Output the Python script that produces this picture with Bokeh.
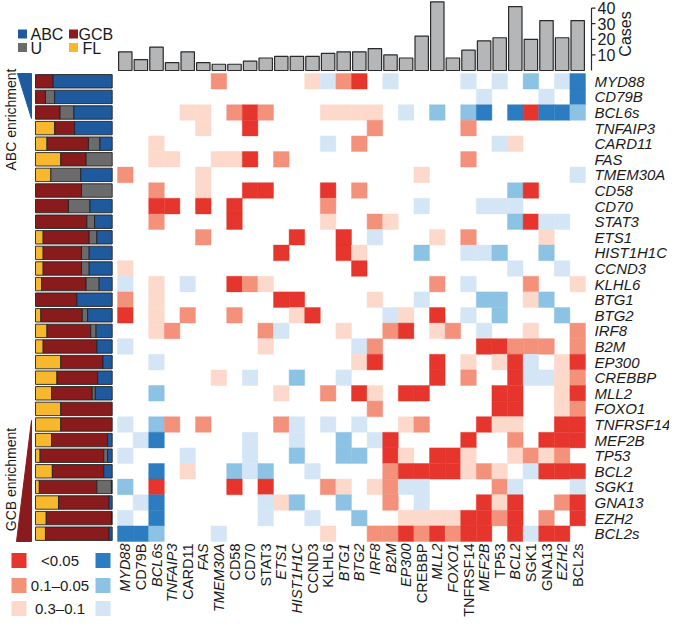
import math
from bokeh.plotting import figure
from bokeh.models import Range1d
from bokeh.core.properties import value
from bokeh.embed import file_html
from bokeh.resources import INLINE

# ---------------- data ----------------
genes = ["MYD88", "CD79B", "BCL6s", "TNFAIP3", "CARD11", "FAS", "TMEM30A", "CD58",
         "CD70", "STAT3", "ETS1", "HIST1H1C", "CCND3", "KLHL6", "BTG1", "BTG2",
         "IRF8", "B2M", "EP300", "CREBBP", "MLL2", "FOXO1", "TNFRSF14", "MEF2B",
         "TP53", "BCL2", "SGK1", "GNA13", "EZH2", "BCL2s"]

cases = [12, 7, 15, 5, 12, 5, 4, 4, 6, 8, 9, 9, 9, 11, 12, 12, 14, 10, 8, 22,
         44, 8, 13, 19, 21, 41, 20, 32, 21, 32]

# subtype composition of each row gene (%)
fl = [0, 0, 0, 25, 15, 33, 20, 0, 0, 0, 10, 10, 10, 8, 0, 7, 15, 10, 33, 28,
      21, 33, 33, 21, 6, 22, 5, 30, 14, 13]
gcb = [23, 13, 32, 26, 54, 33, 0, 60, 43, 67, 60, 50, 50, 58, 54, 54, 57, 70, 55, 53,
       53, 67, 67, 73, 83, 67, 75, 66, 85, 83]
u = [0, 12, 18, 0, 15, 34, 39, 40, 28, 10, 10, 10, 10, 17, 0, 7, 7, 0, 0, 0,
     4, 0, 0, 0, 5, 0, 19, 0, 0, 0]
abc = [77, 75, 50, 49, 16, 0, 41, 0, 29, 23, 20, 30, 30, 17, 46, 32, 21, 20, 12, 19,
       22, 0, 0, 6, 6, 11, 1, 4, 1, 4]

# significance of co-occurrence (R/s/r: <0.05, 0.1-0.05, 0.3-0.1) and of
# mutual exclusivity (B/m/b), as "column+level" per row gene
cell_codes = [
    "6s 12r 13b 14s 15R 17b 22b 24b 26m 28b 29B",
    "23b 27b 29B",
    "4r 5r 7s 8R 9s 13r 14r 15r 16r 18b 20m 22m 23B 25B 26R 27B 28B 29m",
    "5r 8R 16s 22s",
    "2r 13b 15s 24b 25r",
    "2r 3r 6r 7r 8R 10s 22s",
    "0s 5r 19r 29b",
    "2s 5r 8R 9R 13R 15s 25m 26R",
    "2R 3R 5R 7R 13s 19b 23b 24b 25b",
    "2s 7R 13r 16s 17r 25m 26R 27b 28b",
    "5s 11R 14R 16b 20r 22s 27r",
    "10R 14R 15r 19m 22b 23b 24m 27m",
    "0r 15R 25b 28b",
    "0b 2r 4b 7R 8s 9r 20s 22b 26s 29r",
    "0s 2r 10R 11R 16r 19b 23m 24m 26r 27m",
    "0R 2r 4s 7s 11r 12R 17b 18r 20R 22b 24m 28m",
    "2r 3s 9s 10b 14r 17s 18R 20r 21s 23b 26r 29s",
    "0b 9r 15b 16s 23R 24R 25s 26s 27s 29s",
    "2b 15r 16R 20R 22r 24r 25R 26b 28r 29R",
    "6r 8b 11m 14b 20R 22s 25R 26b 27b 28r 29s",
    "2m 10r 13s 15R 16r 18R 19R 24R 25R 28r 29R",
    "16s 24R 25R 28r 29s",
    "0b 2m 3s 5s 10s 11b 13b 15b 18r 19s 23R 24r 25r 28R 29R",
    "1b 2B 8b 11b 14m 16b 17R 22R 25s 27R 28R 29R",
    "0b 4b 8b 11m 14m 15m 17R 18r 20R 21R 22r 25r 26s 27r 28s",
    "2B 4r 7m 8b 9m 12b 17s 18R 19R 20R 21R 22r 23s 24r 26b 27R 28R 29R",
    "0m 2R 7R 9R 13s 14r 16r 17s 18b 19b 24s 25b 29b",
    "1b 2B 9b 10r 11m 14m 17s 19b 23R 24r 25R 28s 29R",
    "0b 2B 9b 12b 15m 18r 19r 20r 21r 22R 23R 24s 25R 27s 29R",
    "0B 1B 2m 6b 13r 16s 17s 18R 19s 20R 21s 22R 23R 25R 26b 27R 28R",
]

case_ticks = [10, 20, 30, 40]
legend_labels = ["<0.05", "0.1\u20130.05", "0.3\u20130.1"]
subtypes = ["ABC", "GCB", "U", "FL"]

# ---------------- styles ----------------
level_colors = {"R": "#e5352c", "s": "#f3917b", "r": "#fcd9cb",
                "B": "#2b7cc0", "m": "#8cc2e3", "b": "#d4e6f6"}
sub_colors = {"FL": "#f8b82e", "GCB": "#8a1b1c", "U": "#6b6b6b", "ABC": "#1f5a9f"}
bottom_italic = [True, False, True, True, False, True, True, False, False, False,
                 True, True, False, False, True, True, True, True, True, False,
                 True, True, False, True, False, True, False, False, True, False]
FONT = value("Liberation Sans")
TXT = "#1a1a1a"

# pixel geometry helpers (reference pixel -> data units of the heatmap)
CELL = 15.6
N = len(genes)
def dx(px):
    return (px - 128) / CELL
def dy(py):
    return (548 - py) / CELL

BASE, PPC = 77.0, 1.56          # cases axis: baseline pixel, pixels per case
PX0, PPP = 46.0, 0.767          # composition bars: left pixel, pixels per percent
LEFT, RIGHT, TOP, BOTTOM = 11, 680, 7, 626

p = figure(width=669, height=619, output_backend="svg", toolbar_location=None,
           title=None, x_axis_location=None, y_axis_location=None, min_border=0,
           x_range=Range1d(dx(LEFT), dx(RIGHT)), y_range=Range1d(dy(BOTTOM), dy(TOP)))
p.outline_line_color = None
p.grid.grid_line_color = None
p.background_fill_color = "white"
p.extra_y_ranges = {"cases": Range1d((BASE - BOTTOM) / PPC, (BASE - TOP) / PPC)}
p.extra_x_ranges = {"pct": Range1d((LEFT - PX0) / PPP, (RIGHT - PX0) / PPP)}

# ---------------- heatmap ----------------
hx, hy, hc = [], [], []
for r, codes in enumerate(cell_codes):
    for tok in codes.split():
        c, k = int(tok[:-1]), tok[-1]
        hx.append(c + 0.5)
        hy.append(N - r - 0.5)
        hc.append(level_colors[k])
p.rect(x=hx, y=hy, width=1, height=1, fill_color=hc, line_color=hc, line_width=0.4)

# ---------------- top bars (cases) ----------------
p.vbar(x=[i + 0.5 for i in range(N)], top=cases, bottom=0, width=0.86,
       y_range_name="cases", fill_color="#b4b6b8", line_color="#2a2a2a", line_width=1.2)
ax = dx(602)
p.segment(x0=[ax], y0=[0], x1=[ax], y1=[max(case_ticks)], y_range_name="cases",
          line_color="#2a2a2a", line_width=1.2)
p.segment(x0=[ax] * len(case_ticks), y0=case_ticks, x1=[dx(606)] * len(case_ticks),
          y1=case_ticks, y_range_name="cases", line_color="#2a2a2a", line_width=1.2)
p.text(x=[dx(608)] * len(case_ticks), y=case_ticks, text=[str(t) for t in case_ticks],
       y_range_name="cases", text_font=FONT, text_font_size="16px", text_color=TXT,
       text_align="left", text_baseline="middle")
p.text(x=[dx(636)], y=[(BASE - 40.5) / PPC], text=["Cases"], angle=math.pi / 2,
       y_range_name="cases", text_font=FONT, text_font_size="16px", text_color=TXT,
       text_align="center", text_baseline="middle")

# ---------------- composition bars ----------------
by, bl, br, bc = [], [], [], []
for r in range(N):
    parts = [("FL", fl[r]), ("GCB", gcb[r]), ("U", u[r]), ("ABC", abc[r])]
    total = sum(v for _, v in parts)
    left = 0.0
    for name, v in parts:
        w = v * 100.0 / total
        if w > 0:
            by.append(N - r - 0.5)
            bl.append(left)
            br.append(left + w)
            bc.append(sub_colors[name])
        left += w
p.hbar(y=by, left=bl, right=br, height=0.86, x_range_name="pct",
       fill_color=bc, line_color="#222222", line_width=0.9)

# enrichment wedges and labels
p.patch(x=[dx(28), dx(42), dx(42)], y=[dy(80), dy(80), dy(125)], color="#1f5a9f")
p.patch(x=[dx(42), dx(42), dx(27)], y=[dy(427), dy(548), dy(548)], color="#8a1b1c")
p.text(x=[dx(21), dx(21)], y=[dy(126), dy(486)], text=["ABC enrichment", "GCB enrichment"],
       angle=math.pi / 2, text_font=FONT, text_font_size="14px", text_color=TXT,
       text_align="center", text_baseline="middle")

# subtype legend (top left)
p.scatter(x=[dx(33), dx(84), dx(33), dx(84)], y=[dy(40.5), dy(40.5), dy(54), dy(54)],
          marker="square", size=9, line_color=None,
          fill_color=[sub_colors[s] for s in subtypes])
p.text(x=[dx(41), dx(89), dx(41), dx(93)], y=[dy(41), dy(41), dy(54.5), dy(54.5)],
       text=subtypes, text_font=FONT, text_font_size="16px", text_color=TXT,
       text_align="left", text_baseline="middle")

# ---------------- gene labels ----------------
p.text(x=[dx(605)] * N, y=[N - r - 0.5 for r in range(N)], text=genes,
       text_font=FONT, text_font_size="15px", text_font_style="italic", text_color=TXT,
       text_align="left", text_baseline="middle")
for flag, style in ((True, "italic"), (False, "normal")):
    idx = [i for i in range(N) if bottom_italic[i] == flag]
    p.text(x=[i + 0.5 for i in idx], y=[dy(550)] * len(idx), text=[genes[i] for i in idx],
           angle=math.pi / 2, text_font=FONT, text_font_size="14.5px", text_font_style=style,
           text_color=TXT, text_align="right", text_baseline="middle")

# ---------------- significance legend (bottom left) ----------------
ly = [dy(567), dy(592), dy(615)]
p.scatter(x=[dx(29.5)] * 3, y=ly, marker="square", size=15, line_color=None,
          fill_color=[level_colors[k] for k in "Rsr"])
p.scatter(x=[dx(113.5)] * 3, y=ly, marker="square", size=15, line_color=None,
          fill_color=[level_colors[k] for k in "Bmb"])
p.text(x=[dx(70.5)] * 3, y=ly, text=legend_labels, text_font=FONT, text_font_size="15px",
       text_color=TXT, text_align="center", text_baseline="middle")

open("out.html", "w").write(file_html(p, INLINE))
